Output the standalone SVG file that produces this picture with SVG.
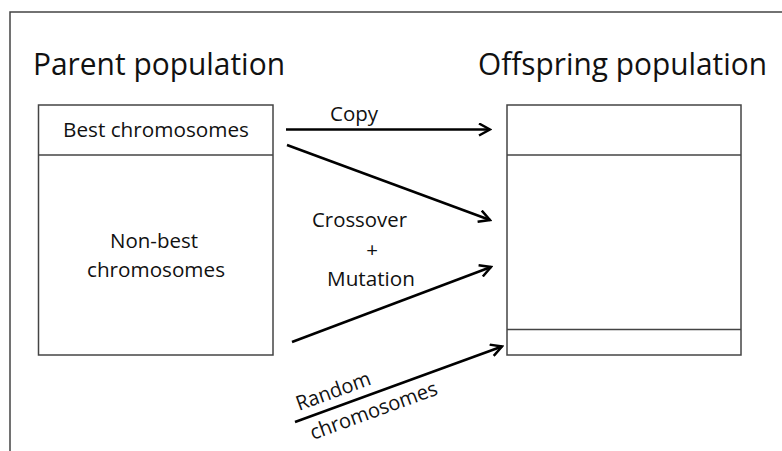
<svg xmlns="http://www.w3.org/2000/svg" width="782" height="451" viewBox="0 0 782 451">
<style>
  text { font-family: "Open Sans", "Liberation Sans", sans-serif; fill: #111; }
  .title { font-size: 31px; }
  .lbl { font-size: 20.5px; }
  .box { fill: #fff; stroke: #444; stroke-width: 1.5; }
  .div { stroke: #444; stroke-width: 1.5; }
  .frame { stroke: #444; stroke-width: 1.5; fill: none; }
  .arrow { stroke: #000; stroke-width: 2.5; fill: none; marker-end: url(#head); }
</style>
<defs>
  <marker id="head" viewBox="0 0 14 14" refX="12" refY="7" markerWidth="14" markerHeight="14" markerUnits="userSpaceOnUse" orient="auto">
    <path d="M1,1 L12,7 L1,13" fill="none" stroke="#000" stroke-width="2.5"/>
  </marker>
</defs>
<rect width="782" height="451" fill="#fff"/>
<path class="frame" d="M10,451 V12 H782"/>

<text class="title" x="33" y="75" textLength="252" lengthAdjust="spacingAndGlyphs">Parent population</text>
<text class="title" x="478" y="75" textLength="289" lengthAdjust="spacingAndGlyphs">Offspring population</text>

<g id="parent">
  <rect class="box" x="38.5" y="105" width="234.5" height="250"/>
  <line class="div" x1="38.5" y1="155" x2="273" y2="155"/>
  <text class="lbl" x="63" y="137" textLength="186" lengthAdjust="spacingAndGlyphs">Best chromosomes</text>
  <text class="lbl" x="110" y="248" textLength="88" lengthAdjust="spacingAndGlyphs">Non-best</text>
  <text class="lbl" x="87" y="277" textLength="138" lengthAdjust="spacingAndGlyphs">chromosomes</text>
</g>

<g id="offspring">
  <rect class="box" x="507" y="105" width="234" height="250"/>
  <line class="div" x1="507" y1="155" x2="741" y2="155"/>
  <line class="div" x1="507" y1="329.5" x2="741" y2="329.5"/>
</g>

<g id="connectors">
  <line class="arrow" x1="286" y1="129.5" x2="490" y2="129.5"/>
  <line class="arrow" x1="287" y1="145" x2="490" y2="220"/>
  <line class="arrow" x1="292" y1="342" x2="491" y2="267"/>
  <line class="arrow" x1="295" y1="422" x2="502" y2="346.5"/>
</g>

<g id="labels">
  <text class="lbl" x="330" y="121" textLength="48" lengthAdjust="spacingAndGlyphs">Copy</text>
  <text class="lbl" x="312" y="227" textLength="95" lengthAdjust="spacingAndGlyphs">Crossover</text>
  <text class="lbl" x="372" y="257" text-anchor="middle">+</text>
  <text class="lbl" x="327" y="286" textLength="88" lengthAdjust="spacingAndGlyphs">Mutation</text>
  <text class="lbl" x="299" y="411" transform="rotate(-20 299 411)" textLength="78" lengthAdjust="spacingAndGlyphs">Random</text>
  <text class="lbl" x="313" y="440" transform="rotate(-20 313 440)" textLength="134" lengthAdjust="spacingAndGlyphs">chromosomes</text>
</g>
</svg>
